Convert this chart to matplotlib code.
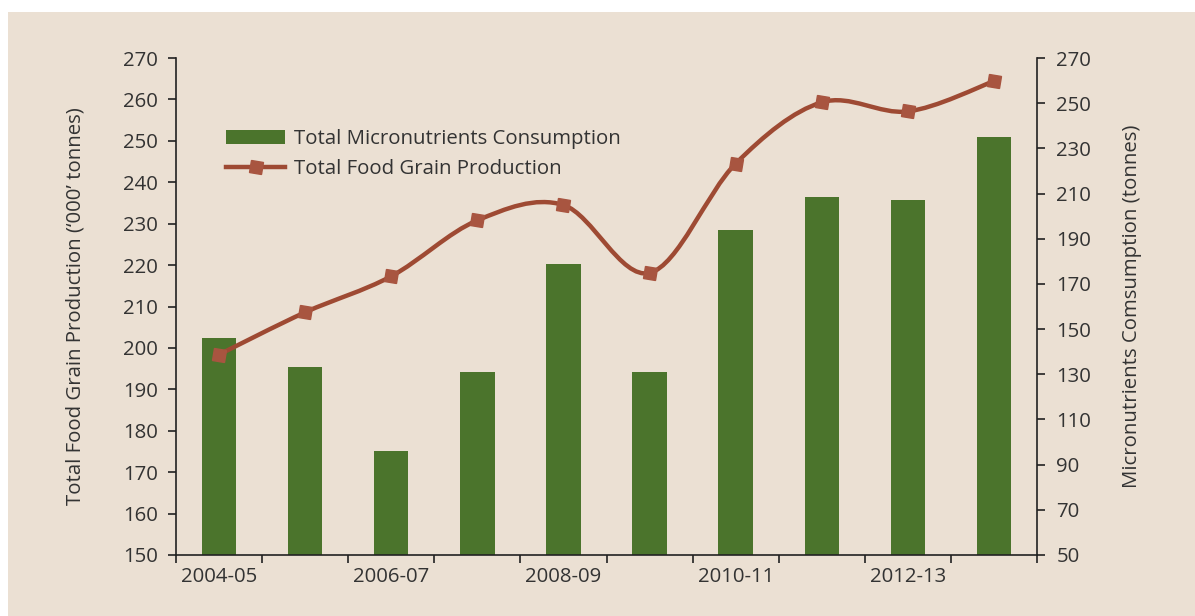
import matplotlib
matplotlib.use("Agg")
import matplotlib.pyplot as plt
import numpy as np
from matplotlib.path import Path
from matplotlib.patches import PathPatch, Rectangle
from matplotlib.markers import MarkerStyle
from matplotlib.transforms import Affine2D
from matplotlib.lines import Line2D
from matplotlib.patches import Patch

categories = ["2004-05", "2005-06", "2006-07", "2007-08", "2008-09",
              "2009-10", "2010-11", "2011-12", "2012-13", "2013-14"]
micronutrients = [146, 133, 96, 131, 179, 131, 194, 208.5, 207, 235]
food_grain = [198.4, 208.6, 217.3, 230.8, 234.5, 218.1, 244.5, 259.3, 257.1, 264.4]
left_ticks = list(range(150, 271, 10))
right_ticks = list(range(50, 271, 20))

plt.rcParams['font.family'] = ['Open Sans', 'DejaVu Sans']
FS = 14.7
TXT = '#333333'
BG = '#EBE0D3'
BAR = '#4B742C'
LINE = '#9E4A33'
MARK = '#A85540'

fig = plt.figure(figsize=(11.95, 6.16), dpi=100)
fig.patch.set_facecolor('white')
fig.patches.append(Rectangle((8/1195, 0), 1 - 8/1195, 1 - 12/616,
                             transform=fig.transFigure, facecolor=BG,
                             edgecolor='none', zorder=-10))

L, R, B, T = 176/1195, 1037/1195, 1 - 555/616, 1 - 58/616
ax = fig.add_axes([L, B, R - L, T - B])
ax2 = ax.twinx()
ax.set_zorder(ax2.get_zorder() + 1)
ax.patch.set_visible(False)
ax2.patch.set_visible(False)

x = np.arange(len(categories))
ax2.bar(x, micronutrients, width=0.4, color=BAR, zorder=2)

# smoothed line via cubic Bezier (Catmull-Rom control points)
pts = np.column_stack([x, food_grain]).astype(float)
verts = [tuple(pts[0])]
codes = [Path.MOVETO]
n = len(pts)
for i in range(n - 1):
    p0 = pts[i - 1] if i > 0 else pts[i]
    p1 = pts[i]
    p2 = pts[i + 1]
    p3 = pts[i + 2] if i + 2 < n else pts[i + 1]
    c1 = p1 + (p2 - p0) / 6.0
    c2 = p2 - (p3 - p1) / 6.0
    verts += [tuple(c1), tuple(c2), tuple(p2)]
    codes += [Path.CURVE4] * 3
ax.add_patch(PathPatch(Path(verts, codes), facecolor='none', edgecolor=LINE,
                       lw=3.2, zorder=3, capstyle='round'))
mk = MarkerStyle('s', transform=Affine2D().rotate_deg(-10))
ax.plot(x, food_grain, linestyle='none', marker=mk, markersize=9,
        color=MARK, zorder=4)

ax.set_xlim(-0.5, len(categories) - 0.5)
ax.set_ylim(150, 270)
ax2.set_ylim(50, 270)
ax.set_yticks(left_ticks)
ax2.set_yticks(right_ticks)

ax.set_xticks(np.arange(-0.5, len(categories), 1.0), minor=False)
ax.set_xticklabels([])
ax.set_xticks(x[::2], minor=True)
ax.set_xticklabels(categories[::2], minor=True)
ax.tick_params(axis='x', which='minor', length=0, pad=9, labelsize=FS, labelcolor=TXT)
ax.tick_params(axis='x', which='major', length=6, width=1.2, direction='out', color='#222222')
ax.tick_params(axis='y', length=6, width=1.2, direction='out', labelsize=FS,
               labelcolor=TXT, color='#222222', pad=7)
ax2.tick_params(axis='y', length=6, width=1.2, direction='out', labelsize=FS,
                labelcolor=TXT, color='#222222', pad=8)

for a in (ax, ax2):
    a.spines['top'].set_visible(False)
    for s in ('left', 'right', 'bottom'):
        a.spines[s].set_color('#222222')
        a.spines[s].set_linewidth(1.2)
ax.spines['right'].set_visible(False)
ax2.spines['left'].set_visible(False)
ax2.spines['bottom'].set_visible(False)

ax.set_ylabel("Total Food Grain Production (\u2018000\u2019 tonnes)", fontsize=FS,
              color=TXT, labelpad=27)
ax2.set_ylabel("Micronutrients Comsumption (tonnes)", fontsize=FS,
               color=TXT, labelpad=22)

handles = [Patch(facecolor=BAR, edgecolor='none'),
           Line2D([], [], color=LINE, lw=3.2, marker=mk, markersize=9,
                  markerfacecolor=MARK, markeredgecolor=MARK)]
labels = ["Total Micronutrients Consumption", "Total Food Grain Production"]
fig.legend(handles, labels, loc='upper left', bbox_to_anchor=(216/1195, 1 - 119/616),
           frameon=False, fontsize=FS, labelcolor=TXT, handlelength=2.9,
           handleheight=0.7, handletextpad=0.4, labelspacing=0.5, borderpad=0)

fig.savefig('out.png', dpi=100, facecolor=fig.get_facecolor())
